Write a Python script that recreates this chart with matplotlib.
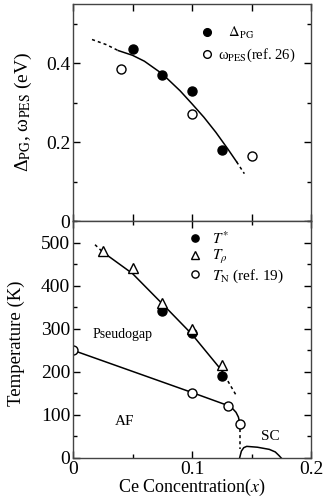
import numpy as np
import matplotlib
matplotlib.use('Agg')
import matplotlib.pyplot as plt
from matplotlib.ticker import MultipleLocator, FuncFormatter

plt.rcParams['font.family'] = ['Liberation Serif', 'DejaVu Serif']
plt.rcParams['mathtext.fontset'] = 'stix'

## data

# top panel: gap energies (eV)
x_pg   = [0.05, 0.075, 0.10, 0.125]
d_pg   = [0.435, 0.370, 0.330, 0.180]
x_pes  = [0.04, 0.10, 0.15]
w_pes  = [0.385, 0.270, 0.165]

# guide line through the gap data
x_gap_dash1 = [0.016, 0.028, 0.038]
y_gap_dash1 = [0.460, 0.447, 0.432]
x_gap_solid = [0.038, 0.05, 0.06, 0.075, 0.09, 0.10, 0.11, 0.12, 0.13, 0.1375]
y_gap_solid = [0.432, 0.420, 0.405, 0.373, 0.330, 0.297, 0.263, 0.225, 0.183, 0.150]
x_gap_dash2 = [0.1375, 0.144]
y_gap_dash2 = [0.150, 0.120]

# bottom panel: temperatures (K)
x_tstar = [0.075, 0.10, 0.125]
t_star  = [340, 290, 190]
x_trho  = [0.025, 0.05, 0.075, 0.10, 0.125]
t_rho   = [480, 440, 360, 300, 215]
x_tn    = [0.0, 0.10, 0.13, 0.14]
t_n     = [250, 150, 120, 80]

# guide lines
x_ts_dash1 = [0.0185, 0.025]
y_ts_dash1 = [495, 478]
x_ts_solid = [0.025, 0.05, 0.075, 0.10, 0.125]
y_ts_solid = [478, 428, 358, 287, 203]
x_ts_dash2 = [0.125, 0.137]
y_ts_dash2 = [203, 146]

x_tn_line = [0.0, 0.10, 0.13, 0.134, 0.137, 0.139, 0.14]
y_tn_line = [250, 152, 122, 115, 106, 95, 82]
x_tn_dash = [0.14, 0.14]
y_tn_dash = [68, 22]

x_sc = [0.14, 0.1415, 0.1435, 0.146, 0.155, 0.165, 0.170, 0.173, 0.175]
y_sc = [0, 16, 24, 27, 25, 20, 14, 6, 0]

## figure

fig = plt.figure(figsize=(3.27, 4.99), dpi=100)
left, width = 73 / 327, 238 / 327
ax1 = fig.add_axes([left, 1 - 221 / 499, width, 217 / 499])
ax2 = fig.add_axes([left, 1 - 458 / 499, width, 237 / 499])

ms = 6.5
lw = 1.1
fmt = FuncFormatter(lambda v, p: '0' if v == 0 else '%.1f' % v)

# top panel
ax1.plot(x_gap_dash1, y_gap_dash1, 'k--', lw=lw, dashes=(2, 2))
ax1.plot(x_gap_solid, y_gap_solid, 'k-', lw=lw)
ax1.plot(x_gap_dash2, y_gap_dash2, 'k--', lw=lw, dashes=(2, 2))
ax1.plot(x_pg, d_pg, 'o', color='k', ms=ms, ls='none', label=r'$\quad\Delta_{\rm PG}$')
ax1.plot(x_pes, w_pes, 'o', mfc='white', mec='k', mew=1.0, ms=ms, ls='none',
         label='ω$_{\\rm PES}$(ref. 26)')

ax1.set_xlim(0, 0.2)
ax1.set_ylim(0, 0.55)
ax1.xaxis.set_major_locator(MultipleLocator(0.05))
ax1.xaxis.set_ticklabels([])
ax1.yaxis.set_major_locator(MultipleLocator(0.2))
ax1.yaxis.set_minor_locator(MultipleLocator(0.1))
ax1.yaxis.set_major_formatter(fmt)
ax1.set_ylabel('Δ$_{\\rm PG}$, ω$_{\\rm PES}$ (eV)', fontsize=14)
ax1.yaxis.set_label_coords(-0.165, 0.502)
ax1.legend(loc='upper left', bbox_to_anchor=(0.532, 0.905), frameon=False, fontsize=10.5,
           handlelength=1.0, handletextpad=0.25, borderpad=0, borderaxespad=0,
           labelspacing=0.4, markerscale=0.85)

# bottom panel
ax2.plot(x_ts_dash1, y_ts_dash1, 'k--', lw=lw, dashes=(2, 2))
ax2.plot(x_ts_solid, y_ts_solid, 'k-', lw=lw)
ax2.plot(x_ts_dash2, y_ts_dash2, 'k--', lw=lw, dashes=(2, 2))
ax2.plot(x_tn_line, y_tn_line, 'k-', lw=lw)
ax2.plot(x_tn_dash, y_tn_dash, 'k--', lw=lw, dashes=(2, 2))
ax2.plot(x_sc, y_sc, 'k-', lw=lw)

ax2.plot(x_tstar, t_star, 'o', color='k', ms=ms, ls='none', label=r'$T^{*}$')
ax2.plot(x_trho, t_rho, '^', mfc='white', mec='k', mew=1.0, ms=ms, ls='none',
         label=r'$T_{\rho}$')
ax2.plot(x_tn, t_n, 'o', mfc='white', mec='k', mew=1.0, ms=ms, ls='none',
         label=r'$T_{\rm N}$ (ref. 19)')

ax2.text(0.016, 286, 'Pseudogap', fontsize=10, va='center', ha='left')
ax2.text(0.043, 84, 'AF', fontsize=11, va='center', ha='center')
ax2.text(0.1655, 50, 'SC', fontsize=11, va='center', ha='center')

ax2.set_xlim(0, 0.2)
ax2.set_ylim(0, 550)
ax2.xaxis.set_major_locator(MultipleLocator(0.1))
ax2.xaxis.set_minor_locator(MultipleLocator(0.05))
ax2.xaxis.set_major_formatter(fmt)
ax2.yaxis.set_major_locator(MultipleLocator(100))
ax2.yaxis.set_minor_locator(MultipleLocator(50))
ax2.set_xlabel(r'Ce Concentration($x$)', fontsize=13)
ax2.xaxis.set_label_coords(0.5, -0.08)
ax2.set_ylabel('Temperature (K)', fontsize=13.5)
ax2.yaxis.set_label_coords(-0.20, 0.485)
ax2.legend(loc='upper left', bbox_to_anchor=(0.481, 0.962), frameon=False, fontsize=11,
           handlelength=1.0, handletextpad=0.6, borderpad=0, borderaxespad=0,
           labelspacing=0.1, markerscale=0.8)

for ax in (ax1, ax2):
    ax.tick_params(which='both', direction='in', top=True, right=True, labelsize=14,
                   pad=2)
    ax.tick_params(which='major', length=5, width=1)
    ax.tick_params(which='minor', length=3, width=1)
    for s in ax.spines.values():
        s.set_linewidth(1.0)
        s.set_color('#444444')

fig.savefig('out.png', dpi=100)
